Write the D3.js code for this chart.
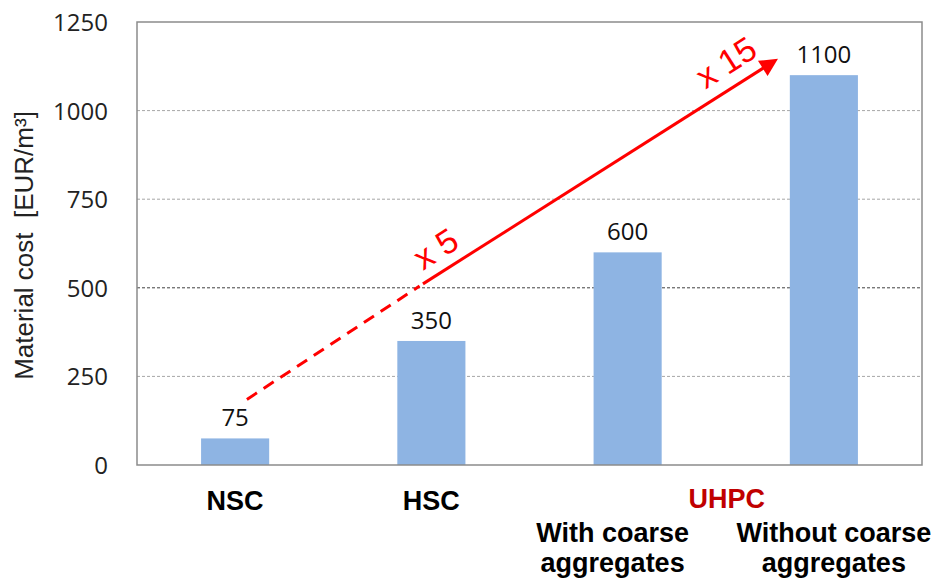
<!DOCTYPE html>
<html>
<head>
	<title>Material cost</title>
	<meta charset='utf-8'>
	<style>
		body { margin: 0; background: #fff; }
		.grid line { stroke: #a6a6a6; stroke-width: 1px; stroke-dasharray: 3,2; }
		.grid line.mid { stroke: #404040; }
		.axis path, .axis line { stroke: none; }
		.axis text { font-family: 'Open Sans', sans-serif; font-size: 24px; fill: #222; }
		.frame { fill: none; stroke: #8c8c8c; stroke-width: 1.5px; }
		.bar { fill: #8eb4e3; }
		.value { font-family: 'Open Sans', sans-serif; font-size: 24px; fill: #111; text-anchor: middle; }
		.cat { font-family: 'Liberation Sans', Arial, sans-serif; font-size: 27px; font-weight: bold; fill: #000; text-anchor: middle; }
		.ytitle { font-family: 'Liberation Sans', Arial, sans-serif; font-size: 26px; fill: #222; text-anchor: middle; white-space: pre; }
		.trend { fill: none; stroke: #ff0000; stroke-width: 3px; }
		.factor { font-family: 'Liberation Sans', Arial, sans-serif; font-size: 34px; fill: #ff0000; text-anchor: middle; }
	</style>
</head>
<body>
<div id="chart"></div>
<script src='https://d3js.org/d3.v7.min.js'></script>
<script>
	'use strict';

	// данные
	const categories = ['NSC', 'HSC', 'UHPC with coarse', 'UHPC without coarse'];
	const costs = [75, 350, 600, 1100];
	const yTicks = [0, 250, 500, 750, 1000, 1250];
	const catLines = [['NSC'], ['HSC'], ['With coarse', 'aggregates'], ['Without coarse', 'aggregates']];
	const catShift = [0, 0, -15, 10];
	const groupLabel = 'UHPC';
	const yTitle = 'Material cost  [EUR/m³]';
	// стрелка: позиция по категориям и значение
	const trendPos = [0.06, 0.94, 2.79];
	const trendVal = [185, 505, 1155];
	const factors = ['x 5', 'x 15'];
	const factorPos = [1.09, 2.57];

	const margin = {top: 22, right: 17, bottom: 115, left: 137};
	const W = 939, H = 580;
	const width = W - margin.left - margin.right;
	const height = H - margin.top - margin.bottom;

	const svg = d3.select('#chart').append('svg')
		.attr('width', W)
		.attr('height', H)
		.append('g')
		.attr('transform', 'translate(' + margin.left + ',' + margin.top + ')');

	const x = d3.scaleBand().domain(categories).range([0, width]).paddingInner(0.653).paddingOuter(0.3265);
	const y = d3.scaleLinear().domain([0, 1250]).range([height, 0]);
	const cx = (c) => x(c) + x.bandwidth() / 2;
	const px = d3.scaleLinear().domain([0, 3]).range([cx(categories[0]), cx(categories[3])]);

	// сетка
	svg.append('g').attr('class', 'grid')
		.selectAll('line')
		.data(yTicks.filter(t => t > 0 && t < 1250))
		.enter().append('line')
		.attr('class', d => d === 500 ? 'mid' : null)
		.attr('x1', 0).attr('x2', width)
		.attr('y1', d => y(d)).attr('y2', d => y(d));

	// ось y
	svg.append('g')
		.attr('class', 'axis')
		.call(d3.axisLeft(y).tickValues(yTicks).tickFormat(d3.format('d')).tickSize(0).tickPadding(29))
		.selectAll('text').attr('dy', '0.35em');

	svg.append('text')
		.attr('class', 'ytitle')
		.attr('transform', 'translate(' + (-104) + ',' + (y(625) + 2) + ') rotate(-90)')
		.text(yTitle);

	// столбцы
	svg.selectAll('.bar')
		.data(costs)
		.enter().append('rect')
		.attr('class', 'bar')
		.attr('x', (d, i) => x(categories[i]))
		.attr('width', x.bandwidth())
		.attr('y', d => y(d))
		.attr('height', d => height - y(d));

	svg.selectAll('.value')
		.data(costs)
		.enter().append('text')
		.attr('class', 'value')
		.attr('x', (d, i) => cx(categories[i]))
		.attr('y', d => y(d) - 12)
		.text(d => d);

	// рамка
	svg.append('path')
		.attr('class', 'frame')
		.attr('d', 'M0,0H' + width + 'V' + height + 'H0Z');

	// подписи категорий
	catLines.forEach((lines, i) => {
		const t = svg.append('text')
			.attr('class', 'cat')
			.attr('x', cx(categories[i]) + catShift[i])
			.attr('y', height + (lines.length > 1 ? 77 : 45));
		lines.forEach((l, k) => {
			t.append('tspan')
				.attr('x', cx(categories[i]) + catShift[i])
				.attr('dy', k === 0 ? 0 : 30)
				.text(l);
		});
	});
	svg.append('text')
		.attr('class', 'cat')
		.style('fill', '#c00000')
		.attr('x', (cx(categories[2]) + cx(categories[3])) / 2 + 1)
		.attr('y', height + 43)
		.text(groupLabel);

	// стрелка
	const defs = svg.append('defs');
	defs.append('marker')
		.attr('id', 'head')
		.attr('viewBox', '0 0 10 10')
		.attr('refX', 2).attr('refY', 5)
		.attr('markerWidth', 7).attr('markerHeight', 6)
		.attr('markerUnits', 'strokeWidth')
		.attr('orient', 'auto')
		.append('path')
		.attr('d', 'M0,0L10,5L0,10Z')
		.attr('fill', '#ff0000');

	const pts = trendPos.map((p, i) => [px(p), y(trendVal[i])]);
	const ang = Math.atan2(pts[2][1] - pts[0][1], pts[2][0] - pts[0][0]);
	const endX = pts[2][0] - 20 * Math.cos(ang), endY = pts[2][1] - 20 * Math.sin(ang);

	svg.append('line')
		.attr('class', 'trend')
		.attr('stroke-dasharray', '12,8')
		.attr('x1', pts[0][0]).attr('y1', pts[0][1])
		.attr('x2', pts[1][0]).attr('y2', pts[1][1]);
	svg.append('line')
		.attr('class', 'trend')
		.attr('x1', pts[1][0] + 4 * Math.cos(ang)).attr('y1', pts[1][1] + 4 * Math.sin(ang))
		.attr('x2', endX).attr('y2', endY)
		.attr('marker-end', 'url(#head)');

	// подписи множителей
	const deg = ang * 180 / Math.PI;
	factors.forEach((label, i) => {
		const fx = px(factorPos[i]);
		const t0 = (fx - pts[0][0]) / Math.cos(ang);
		const fy = pts[0][1] + t0 * Math.sin(ang);
		svg.append('text')
			.attr('class', 'factor')
			.attr('transform', 'translate(' + fx + ',' + fy + ') rotate(' + deg + ') translate(0,-13)')
			.text(label);
	});
</script>
</body>
</html>
